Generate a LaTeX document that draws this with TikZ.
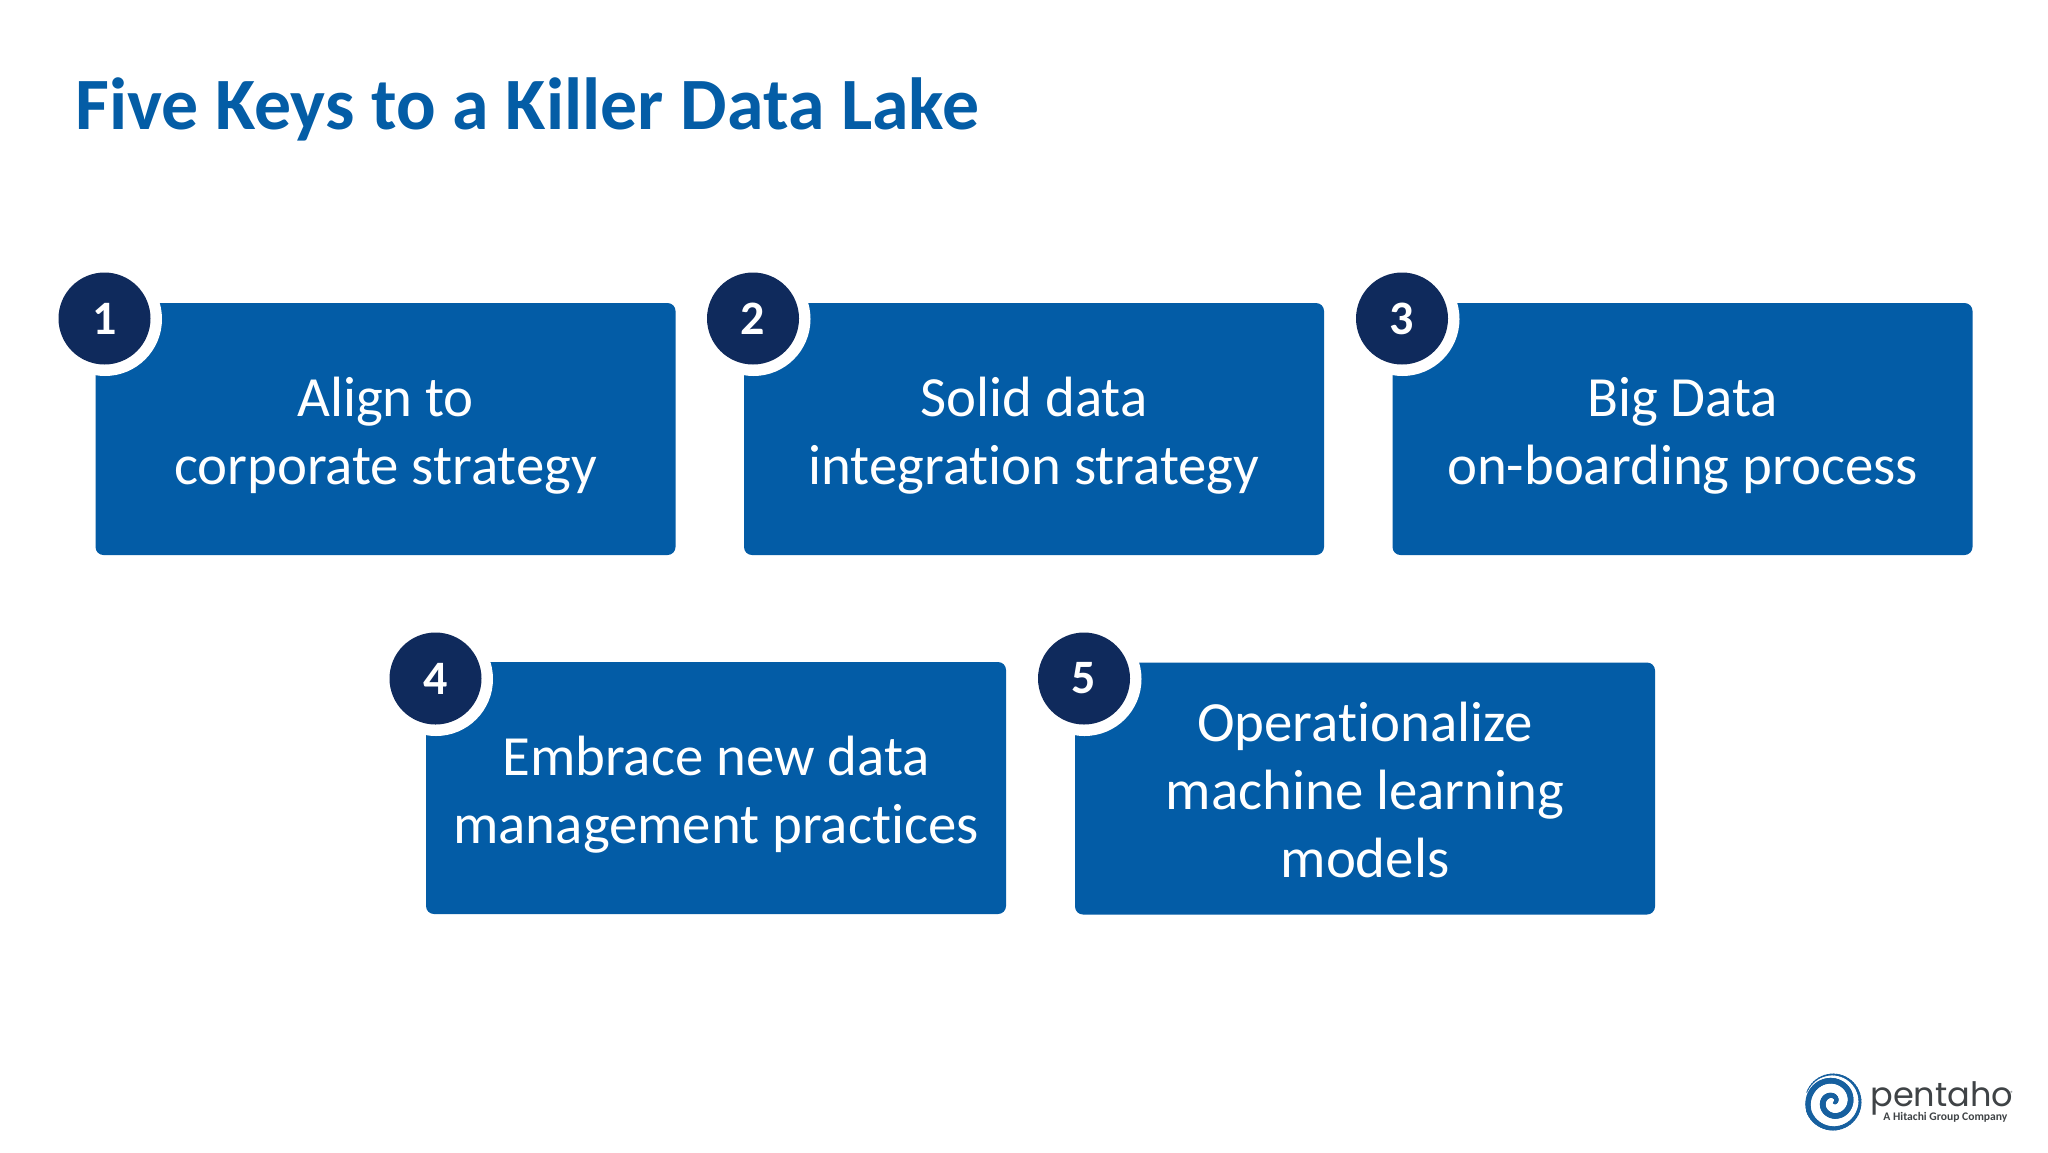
\documentclass[tikz,border=0pt]{standalone}
\usepackage{fontspec}
\setmainfont{Carlito}[Ligatures=NoCommon]
\newfontfamily\logofont{Poppins}
\definecolor{boxblue}{HTML}{035CA6}
\definecolor{navy}{HTML}{0F2A5C}
\definecolor{titleblue}{HTML}{045DA6}
\definecolor{logogray}{HTML}{3F4346}
\definecolor{spiralblue}{HTML}{17609F}
\tikzset{
  keybox/.style={fill=boxblue,rounded corners=4pt,minimum width=290pt,minimum height=126pt,inner sep=0pt},
  keytext/.style={inner sep=0pt,align=center,text=white,font=\fontsize{28.4}{34}\selectfont},
  ringdisc/.style={circle,fill=white,minimum size=57pt,inner sep=0pt},
  badge/.style={circle,fill=navy,minimum size=46pt,inner sep=0pt,text=white,font=\fontsize{24}{24}\selectfont\bfseries},
}
\begin{document}
\begin{tikzpicture}[x=0.5pt,y=-0.5pt]
\useasboundingbox (0,0) rectangle (2048,1152);
\fill[white] (0,0) rectangle (2048,1152);
\node[anchor=base west,inner sep=0pt,text=titleblue,font=\fontsize{36.9}{40}\selectfont\bfseries] (title) at (75,129) {Five Keys to a Killer Data Lake};

\node[keybox] (b1) at (385.5,429) {};
\node[keybox] (b2) at (1034,429) {};
\node[keybox] (b3) at (1682.5,429) {};
\node[keybox] (b4) at (716,788) {};
\node[keybox] (b5) at (1365,788.5) {};
\node[keytext,yshift=-3.2pt] (t1) at (b1) {Align to\\corporate strategy};
\node[keytext,yshift=-3.2pt] (t2) at (b2) {Solid data\\integration strategy};
\node[keytext,yshift=-3.2pt] (t3) at (b3) {Big Data\\on-boarding process};
\node[keytext,yshift=-3.2pt] (t4) at (b4) {Embrace new data\\management practices};
\node[keytext,yshift=-0.6pt] (t5) at (b5) {Operationalize\\machine learning\\models};

\foreach \n/\cx/\cy in {1/104.5/318.5,2/753/318.5,3/1402/318.5,4/435.5/678.5,5/1084/678.5}{
  \node[ringdisc] (r\n) at (\cx+0.5,\cy+0.5) {};
  \node[badge] (c\n) at (\cx,\cy) {\raisebox{-0.5pt}{\n}};
}

% logo
\foreach \i in {0,...,140}{
  \pgfmathsetmacro{\ta}{200+\i*6.4}
  \pgfmathsetmacro{\tb}{200+(\i+1.3)*6.4}
  \pgfmathsetmacro{\f}{\i/140}
  \pgfmathsetmacro{\ra}{\f<0.35 ? 28-2*\f/0.35 : 26*(1-(\f-0.35)/0.65)+2*(\f-0.35)/0.65}
  \pgfmathsetmacro{\rb}{\f<0.35 ? 28-2*(\f+0.01)/0.35 : 26*(1-(\f+0.01-0.35)/0.65)+2*(\f+0.01-0.35)/0.65}
  \pgfmathsetmacro{\w}{\f<0.4 ? 0.4+2.4*\f/0.4 : (\f<0.8 ? 2.8 : 2.8-1.0*(\f-0.8)/0.2)}
  \draw[spiralblue,line width=\w pt,line cap=round] (1833+\ra*cos{\ta},1102+\ra*sin{\ta}) -- (1833+\rb*cos{\tb},1102+\rb*sin{\tb});
}
\node[anchor=base west,inner sep=0pt,text depth=0pt,text=logogray,font=\logofont\fontsize{16.8}{18}\selectfont] (logo) at (1870,1106) {pentaho};
\node[anchor=base west,inner sep=0pt,text=logogray,font=\fontsize{5.8}{6}\selectfont\bfseries] (logosub) at (1883,1120) {A Hitachi Group Company};
\node[anchor=base west,inner sep=0pt,text=logogray,font=\fontsize{3}{3}\selectfont] (logomark) at (2010,1095) {®};
\end{tikzpicture}
\end{document}
